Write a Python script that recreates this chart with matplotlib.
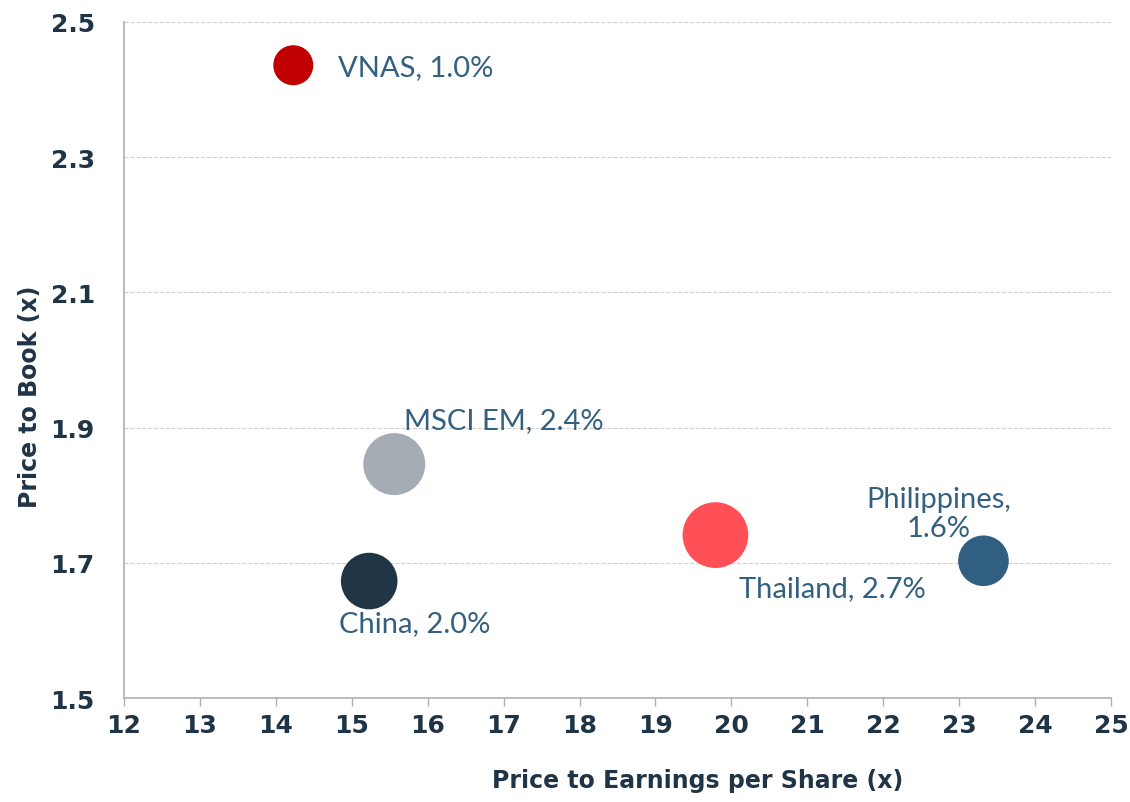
import matplotlib.pyplot as plt

# Bubble data: P/E, P/B, dividend yield (%) -> bubble area
names = ['VNAS', 'MSCI EM', 'China', 'Thailand', 'Philippines']
pe = [14.23, 15.56, 15.23, 19.79, 23.32]
pb = [2.436, 1.846, 1.673, 1.741, 1.703]
yld = [1.0, 2.4, 2.0, 2.7, 1.6]
labels = ['VNAS, 1.0%', 'MSCI EM, 2.4%', 'China, 2.0%', 'Thailand, 2.7%', 'Philippines,\n1.6%']

colors = ['#c00000', '#a5acb3', '#203545', '#ff5057', '#305f82']
# label offsets in points, and alignment
offsets = [(32, -1), (7, 32), (-22, -30), (17, -38), (-32, 34)]
aligns = ['left', 'left', 'left', 'left', 'center']

text_col = '#34607f'
dark = '#1f3446'

plt.rcParams['font.family'] = ['Lato', 'DejaVu Sans']

fig = plt.figure(figsize=(11.3, 8.03), dpi=100)
ax = fig.add_axes([0.1097, 0.1295, 0.8735, 0.8419])

ax.scatter(pe, pb, s=[v * 830 for v in yld], c=colors, edgecolors='none', zorder=3)

for i in range(len(names)):
    ax.annotate(labels[i], (pe[i], pb[i]), xytext=offsets[i], textcoords='offset points',
                ha=aligns[i], va='center', fontsize=21, color=text_col, zorder=4,
                linespacing=1.15)

ax.set_xlim(12, 25)
ax.set_ylim(1.5, 2.5)
ax.set_xticks(range(12, 26))
ax.set_yticks([1.5, 1.7, 1.9, 2.1, 2.3, 2.5])
ax.set_yticklabels(['1.5', '1.7', '1.9', '2.1', '2.3', '2.5'])

ax.grid(axis='y', color='#d0d0d0', linestyle='--', linewidth=0.8, zorder=0)
ax.set_axisbelow(True)
for s in ['top', 'right']:
    ax.spines[s].set_visible(False)
for s in ['left', 'bottom']:
    ax.spines[s].set_color('#b0b0b0')
    ax.spines[s].set_linewidth(1.2)

ax.tick_params(axis='x', colors='#b0b0b0', length=6, width=1, labelcolor=dark,
               labelsize=18, pad=5)
ax.tick_params(axis='y', length=0, labelcolor=dark, labelsize=18, pad=21)
for t in ax.get_xticklabels() + ax.get_yticklabels():
    t.set_fontweight('bold')
    t.set_family('DejaVu Sans')

ax.set_xlabel('Price to Earnings per Share (x)', fontsize=17, fontweight='bold',
              color=dark, family='DejaVu Sans', va='top')
ax.set_ylabel('Price to Book (x)', fontsize=17, fontweight='bold', color=dark,
              family='DejaVu Sans')
ax.xaxis.set_label_coords(0.5816, -0.104)
ax.yaxis.set_label_coords(-0.083, 0.447)

fig.savefig('out.png', dpi=100)
